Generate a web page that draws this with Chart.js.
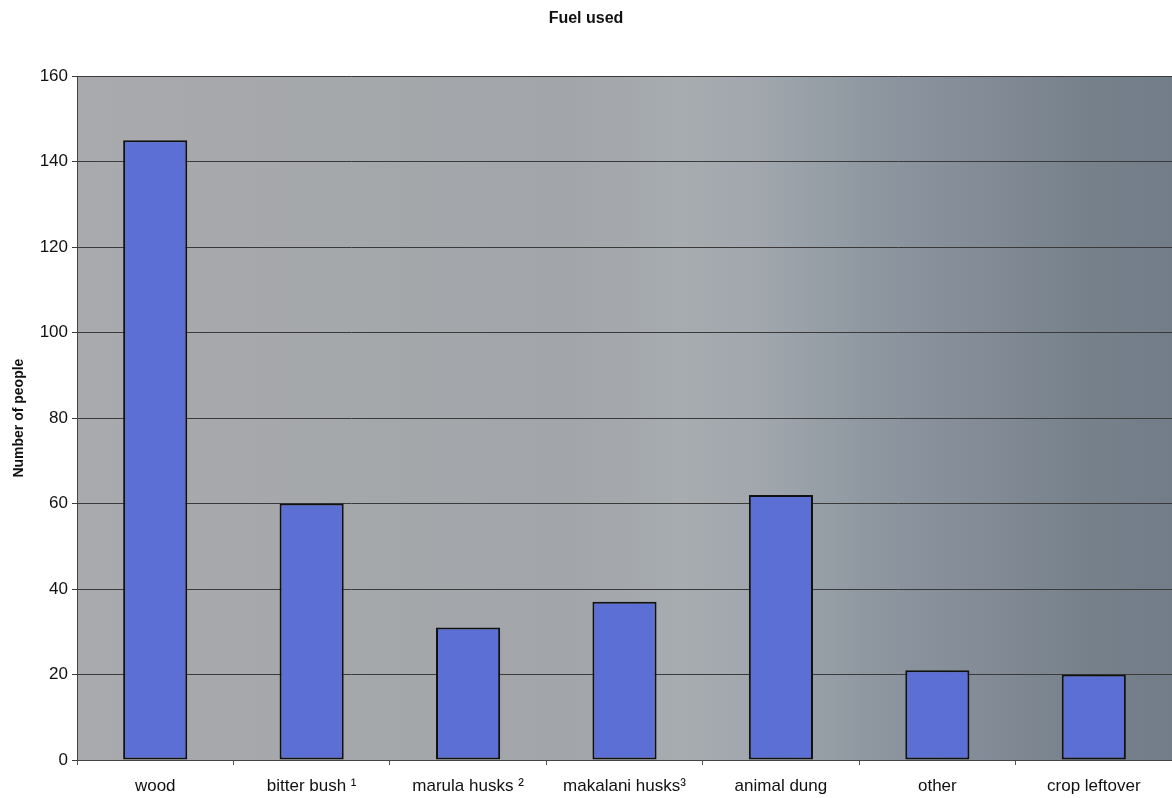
<!DOCTYPE html>
<html>
<head>
<meta charset="utf-8">
<script src="https://cdn.jsdelivr.net/npm/chart.js@4.4.1/dist/chart.umd.min.js"></script>
<style>
  html, body { margin: 0; padding: 0; background: #ffffff; }
  #wrap { width: 1172px; height: 798px; position: relative; }
</style>
</head>
<body>
<div id="wrap"><canvas id="c" width="1172" height="798"></canvas></div>
<script>
// Fuel types and how many people reported using each
const categories = ['wood', 'bitter bush \u00B9', 'marula husks \u00B2', 'makalani husks\u00B3', 'animal dung', 'other', 'crop leftover'];
const peopleCounts = [145, 60, 31, 37, 62, 21, 20];
const yTicks = [0, 20, 40, 60, 80, 100, 120, 140, 160];

const FONT = 'Liberation Sans, Arial, sans-serif';

// Grey-to-slate wash behind the plotting area
const plotBackground = {
  id: 'plotBackground',
  beforeDraw(chart) {
    const { ctx, chartArea: a } = chart;
    const g = ctx.createLinearGradient(a.left, 0, a.right, 0);
    g.addColorStop(0.00, '#a9aaad');
    g.addColorStop(0.15, '#a6a8ab');
    g.addColorStop(0.30, '#a4a7aa');
    g.addColorStop(0.45, '#a2a5a9');
    g.addColorStop(0.55, '#a7acb0');
    g.addColorStop(0.62, '#a1a7ad');
    g.addColorStop(0.72, '#8f98a1');
    g.addColorStop(0.82, '#838c97');
    g.addColorStop(0.92, '#77818c');
    g.addColorStop(1.00, '#737d89');
    ctx.save();
    ctx.fillStyle = g;
    ctx.fillRect(a.left, a.top, a.right - a.left, a.bottom - a.top);
    ctx.restore();
  }
};

new Chart(document.getElementById('c'), {
  type: 'bar',
  data: {
    labels: categories,
    datasets: [{
      label: 'Number of people',
      data: peopleCounts,
      backgroundColor: '#5b6fd5',
      borderColor: '#111111',
      borderWidth: 2,
      borderSkipped: false,
      categoryPercentage: 1.0,
      barPercentage: 0.41
    }]
  },
  options: {
    responsive: false,
    animation: false,
    layout: { padding: { top: 0, right: 0, bottom: 0, left: 0 } },
    plugins: {
      legend: { display: false },
      tooltip: { enabled: false },
      title: {
        display: true,
        text: 'Fuel used',
        color: '#111111',
        font: { family: FONT, size: 16, weight: 'bold' },
        padding: { top: 9, bottom: 48 }
      }
    },
    scales: {
      x: {
        offset: true,
        grid: {
          offset: true,
          drawOnChartArea: false,
          drawTicks: true,
          tickLength: 5,
          color: '#555555'
        },
        border: { display: true, color: '#444444', width: 1 },
        ticks: {
          color: '#111111',
          padding: 11,
          maxRotation: 0,
          autoSkip: false,
          font: { family: FONT, size: 17 }
        },
        afterFit(scale) { scale.height = 38; }
      },
      y: {
        min: 0,
        max: 160,
        afterBuildTicks(scale) { scale.ticks = yTicks.map(v => ({ value: v })); },
        grid: {
          color: '#3a3a3a',
          lineWidth: 1,
          drawTicks: true,
          tickLength: 5
        },
        border: { display: true, color: '#444444', width: 1 },
        ticks: {
          color: '#111111',
          padding: 4,
          font: { family: FONT, size: 17 }
        },
        title: {
          display: true,
          text: 'Number of people',
          color: '#111111',
          font: { family: FONT, size: 14, weight: 'bold' },
          padding: { top: 11, bottom: 6 }
        },
        afterFit(scale) { scale.width = 77; }
      }
    }
  },
  plugins: [plotBackground]
});
</script>
</body>
</html>
